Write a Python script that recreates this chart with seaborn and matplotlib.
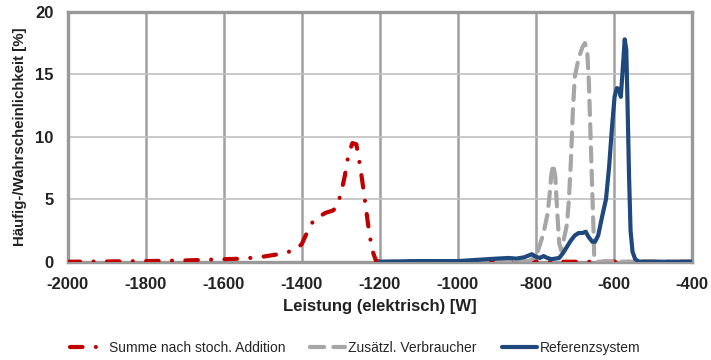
import numpy as np
import pandas as pd
import seaborn as sns
import matplotlib
matplotlib.use("Agg")
import matplotlib.pyplot as plt

# --- data ---
red_x = [-2000, -1900, -1800, -1700, -1600, -1550, -1500, -1460, -1420, -1400, -1390, -1380,
         -1370, -1360, -1350, -1340, -1330, -1320, -1310, -1300, -1290, -1280, -1270, -1260,
         -1250, -1240, -1230, -1220, -1210, -1200, -1000, -800, -600, -400]
red_y = [0.0, 0.02, 0.05, 0.1, 0.2, 0.25, 0.4, 0.6, 0.9, 1.4, 2.1, 2.7,
         3.3, 3.5, 3.7, 3.9, 4.0, 4.1, 4.4, 5.4, 6.8, 8.6, 9.5, 9.4,
         7.6, 5.4, 3.0, 1.0, 0.1, 0.0, 0.0, 0.0, 0.0, 0.0]

gray_x = [-1200, -820, -800, -790, -780, -770, -765, -760, -755, -750, -745, -740, -735,
          -730, -720, -715, -710, -705, -700, -690, -680, -674, -668, -664, -660, -656,
          -652, -650, -645, -400]
gray_y = [0.0, 0.0, 0.4, 1.3, 2.3, 3.8, 5.2, 7.0, 7.8, 6.8, 4.0, 1.5, 0.9,
          1.5, 3.0, 5.0, 8.0, 12.0, 14.8, 16.3, 17.2, 17.5, 16.8, 14.5, 10.5, 6.5,
          2.5, 0.3, 0.0, 0.0]

blue_x = [-1200, -1100, -1000, -950, -900, -870, -850, -830, -810, -800, -790, -780, -770,
          -760, -750, -740, -730, -720, -710, -700, -690, -680, -672, -665, -655, -648,
          -640, -630, -620, -612, -605, -598, -592, -586, -582, -578, -572, -568, -565,
          -561, -557, -552, -545, -535, -400]
blue_y = [0.0, 0.05, 0.05, 0.15, 0.25, 0.3, 0.25, 0.35, 0.6, 0.4, 0.3, 0.45, 0.3,
          0.2, 0.25, 0.3, 0.7, 1.2, 1.7, 2.1, 2.3, 2.3, 2.4, 2.0, 1.6, 1.6,
          2.1, 3.6, 5.0, 7.6, 10.6, 13.2, 13.9, 13.8, 13.2, 15.0, 17.8, 17.0, 13.0,
          7.0, 2.5, 0.8, 0.2, 0.0, 0.0]

labels = ["Summe nach stoch. Addition", "Zusätzl. Verbraucher", "Referenzsystem"]
x_ticks = list(range(-2000, -399, 200))
y_ticks = [0, 5, 10, 15, 20]

RED = "#C00000"
GRAY = "#A6A6A6"
BLUE = "#1F497D"

sns.set_style("white")
plt.rcParams["font.family"] = ["Liberation Sans", "DejaVu Sans"]

fig = plt.figure(figsize=(7.11, 3.6), dpi=100)
ax = fig.add_axes([0.0952, 0.273, 0.8778, 0.694])

df_red = pd.DataFrame({"x": red_x, "y": red_y})
df_gray = pd.DataFrame({"x": gray_x, "y": gray_y})
df_blue = pd.DataFrame({"x": blue_x, "y": blue_y})

sns.lineplot(data=df_red, x="x", y="y", ax=ax, color=RED, lw=3.0, sort=False,
             label=labels[0], zorder=3)
l_red = ax.lines[-1]
l_red.set_linestyle((0, (3.0, 3.2, 0.01, 3.2)))
l_red.set_dash_capstyle("round")

sns.lineplot(data=df_gray, x="x", y="y", ax=ax, color=GRAY, lw=3.0, sort=False,
             label=labels[1], zorder=4)
l_gray = ax.lines[-1]
l_gray.set_linestyle((0, (3.4, 2.2)))
l_gray.set_dash_capstyle("round")

sns.lineplot(data=df_blue, x="x", y="y", ax=ax, color=BLUE, lw=3.0, sort=False,
             label=labels[2], zorder=5)
ax.lines[-1].set_solid_capstyle("round")
ax.lines[-1].set_solid_joinstyle("round")

ax.set_xlim(-2000, -400)
ax.set_ylim(0, 20)
ax.set_xticks(x_ticks)
ax.set_yticks(y_ticks)
ax.set_xticklabels([str(v) for v in x_ticks], fontweight="bold", fontsize=12)
ax.set_yticklabels([str(v) for v in y_ticks], fontweight="bold", fontsize=12)

# grid
for v in x_ticks[1:-1]:
    ax.axvline(v, color="#A0A0A0", lw=1.8, zorder=1)
for v in y_ticks[1:-1]:
    ax.axhline(v, color="#C0C0C0", lw=1.2, zorder=1)

for s in ax.spines.values():
    s.set_visible(True)
    s.set_color("#999999")
    s.set_linewidth(2.4)
ax.tick_params(axis="both", direction="out", length=3, width=1.5, color="#999999",
               labelcolor="#222222")
ax.tick_params(axis="x", pad=8)
ax.tick_params(axis="y", pad=7)

ax.set_xlabel("Leistung (elektrisch) [W]", fontweight="bold", fontsize=12, labelpad=5,
              color="#222222")
ax.set_ylabel("Häufig-/Wahrscheinlichkeit [%]", fontweight="bold", fontsize=10.8,
              labelpad=6, color="#222222")

leg = fig.legend(handles=ax.lines[:3], labels=labels, loc="center",
                 bbox_to_anchor=(0.5, 1 - 348 / 360), ncol=3, frameon=False,
                 prop={"family": ["Liberation Sans", "DejaVu Sans"], "size": 10},
                 handlelength=2.5, handletextpad=0.25, columnspacing=1.8)
ax.get_legend().remove()

fig.savefig("out.png", dpi=100)
